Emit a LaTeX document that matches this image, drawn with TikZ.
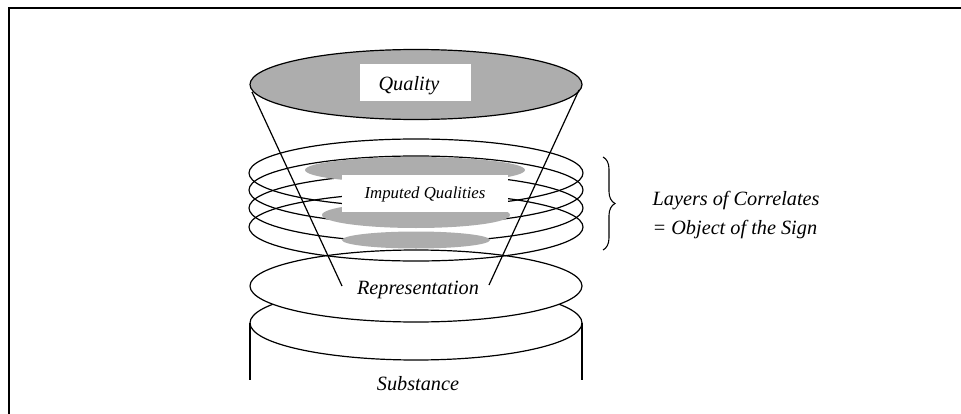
\documentclass[tikz,border=0pt]{standalone}
\usepackage{fontspec}
\setmainfont{Liberation Serif}
\usetikzlibrary{decorations.pathreplacing}
\begin{document}
\begin{tikzpicture}[x=0.75pt,y=-0.75pt, line width=0.9pt,
  hatch/.style={fill=black!32},
  lbl/.style={font=\itshape\fontsize{15.2}{18}\selectfont, inner sep=0pt},
  small/.style={font=\itshape\fontsize{12.6}{15}\selectfont, inner sep=0pt},
  wbox/.style={fill=white, draw=none}]
\useasboundingbox (0,0) rectangle (961,414);
% frame
\draw (9,414) -- (9,8) -- (961,8);
% cylinder (Substance)
\coordinate (cylL) at (250,323);
\coordinate (cylR) at (582,323);
\coordinate (cylLb) at (250,380);
\coordinate (cylRb) at (582,380);
\draw (cylL) -- (cylLb);
\draw (cylR) -- (cylRb);
\draw (416,323) ellipse [x radius=166, y radius=37];
% Representation disc
\draw[fill=white] (416,286) ellipse [x radius=166, y radius=36];
% layers of correlates
\foreach \yy in {173,190,208,227}
  \draw (416,\yy) ellipse [x radius=167, y radius=34];
% imputed quality blobs
\fill[hatch] (415,170) ellipse [x radius=110, y radius=13];
\fill[hatch] (416,215) ellipse [x radius=94, y radius=13];
\fill[hatch] (416,240) ellipse [x radius=74, y radius=8.5];
\fill[wbox] (342,175) rectangle (508,212);
% top ellipse (Quality)
\draw[hatch] (416,84.5) ellipse [x radius=166, y radius=35];
\fill[wbox] (360,64) rectangle (471,101);
% cone
\coordinate (cTL) at (252,92);
\coordinate (cTR) at (579,90);
\coordinate (cBL) at (342,286);
\coordinate (cBR) at (489,285);
\draw (cTL) -- (cBL);
\draw (cTR) -- (cBR);
% texts
\node[lbl] (quality) at (409,86) {Quality};
\node[small] (imputed) at (425,194) {Imputed Qualities};
\node[lbl] (repr) at (418,290) {Representation};
\node[lbl] (subst) at (418,384) {Substance};
% brace and label
\coordinate (bt) at (603,157);
\coordinate (bb) at (603,250);
\draw[line width=0.8pt, decorate, decoration={brace, amplitude=9pt}] (bt) -- (bb);
\node[lbl, anchor=base west] (layers) at (652,205) {Layers of Correlates};
\node[lbl, anchor=base west] (object) at (652,234) {= Object of the Sign};
\end{tikzpicture}
\end{document}
